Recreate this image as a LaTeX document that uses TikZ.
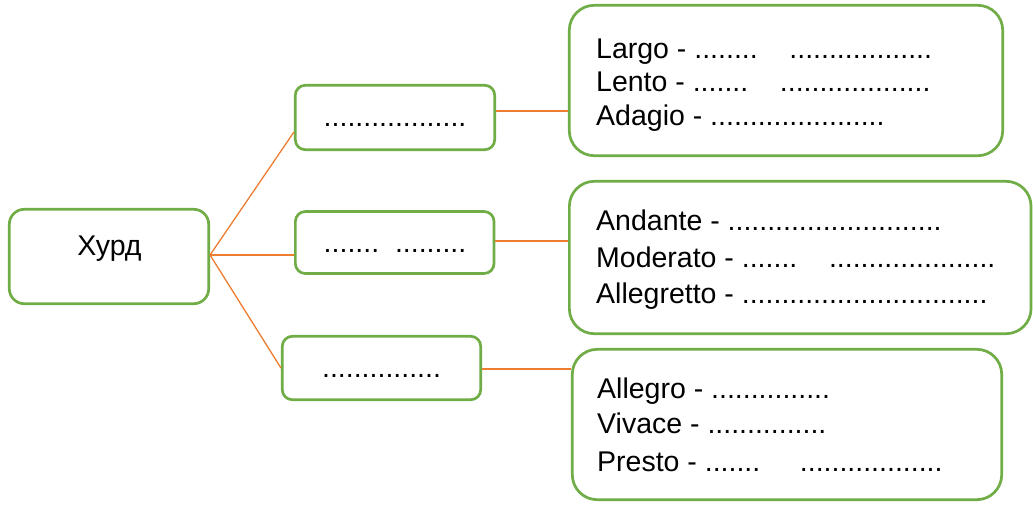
\documentclass[tikz,border=0pt]{standalone}
\usepackage{fontspec}
\setmainfont{Liberation Sans}
\definecolor{gboxc}{HTML}{70AD47}
\definecolor{connc}{HTML}{ED7D31}
\tikzset{
  gbox/.style={draw=gboxc, line width=2.7pt, fill=white, inner sep=0pt, rectangle},
  conn/.style={draw=connc, line width=1.3pt},
  txt/.style={anchor=base west, inner sep=0pt, font=\fontsize{28.5}{34}\selectfont},
  ctxt/.style={anchor=base, inner sep=0pt, font=\fontsize{28.5}{34}\selectfont},
}
\begin{document}
\begin{tikzpicture}[x=1pt, y=-1pt]
\useasboundingbox (0,0) rectangle (1033,504);
% boxes
\node[gbox, rounded corners=15pt, minimum width=199.4pt, minimum height=94.4pt] (root) at (109,256.5) {};
\node[gbox, rounded corners=10pt, minimum width=199.4pt, minimum height=64.4pt] (m1) at (395,117.5) {};
\node[gbox, rounded corners=10pt, minimum width=198.7pt, minimum height=62pt] (m2) at (394.7,242.5) {};
\node[gbox, rounded corners=10pt, minimum width=198.4pt, minimum height=63.4pt] (m3) at (381.5,368) {};
\node[gbox, rounded corners=25pt, minimum width=433.4pt, minimum height=150.4pt] (b1) at (786,80.5) {};
\node[gbox, rounded corners=25pt, minimum width=461.7pt, minimum height=152.4pt] (b2) at (800.2,257.5) {};
\node[gbox, rounded corners=25pt, minimum width=429.4pt, minimum height=150.4pt] (b3) at (787,424.5) {};
% connector points
\coordinate (r0) at ([yshift=1.5pt]root.east);
\coordinate (m1l) at ([yshift=-14.5pt]m1.west);
\coordinate (m2l) at (r0 -| m2.west);
\coordinate (m3l) at (m3.west);
\coordinate (m1r) at ([yshift=6.5pt]m1.east);
\coordinate (m2r) at ([yshift=1.5pt]m2.east);
\coordinate (m3r) at ([yshift=-1pt]m3.east);
\draw[conn] (r0) -- (m1l);
\draw[conn] (r0) -- (m2l);
\draw[conn] (r0) -- (m3l);
\draw[conn] (m1r) -- (m1r -| b1.west);
\draw[conn] (m2r) -- (m2r -| b2.west);
\draw[conn] (m3r) -- (m3r -| b3.west);
% texts
\node[ctxt] (tr) at (109.5,255) {Хурд};
\node[ctxt] (t1) at (395,126) {..................};
\node[ctxt] (t2) at (395,252) {.......~~.........};
\node[ctxt] (t3) at (381.5,377) {...............};
\node[txt] (l1) at (596,58) {Largo - ........~~~~..................};
\node[txt] (l2) at (596,91) {Lento - .......~~~~...................};
\node[txt] (l3) at (596,125) {Adagio - ......................};
\node[txt] (l4) at (596,230) {Andante - ...........................};
\node[txt] (l5) at (596,267) {Moderato - .......~~~~.....................};
\node[txt] (l6) at (596,303) {Allegretto - ...............................};
\node[txt] (l7) at (597,398) {Allegro - ...............};
\node[txt] (l8) at (597,433) {Vivace - ...............};
\node[txt] (l9) at (597,471) {Presto - .......~~~~~..................};
\end{tikzpicture}
\end{document}
